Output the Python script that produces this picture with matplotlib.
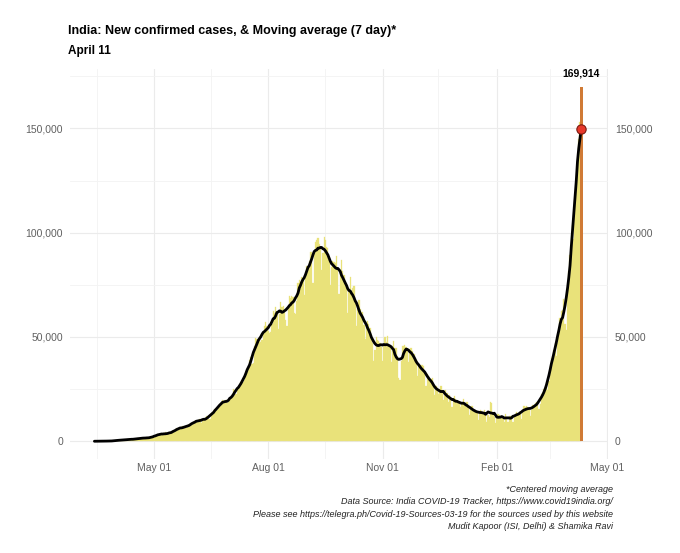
import numpy as np
import pandas as pd
import matplotlib
matplotlib.use('Agg')
import matplotlib.pyplot as plt
import matplotlib.dates as mdates
from matplotlib.ticker import FuncFormatter, MultipleLocator

plt.rcParams['font.family'] = ['Liberation Sans', 'DejaVu Sans']

# daily new confirmed cases, India, 2020-03-14 .. 2021-04-11
mar20 = [14, 8, 15, 11, 28, 23, 50, 84, 69, 99, 86, 88, 75, 153, 143, 109, 220, 303]
apr20 = [424, 486, 560, 579, 609, 484, 573, 565, 813, 871, 854, 758, 1243, 1031, 886,
         1061, 922, 1371, 1580, 1239, 1537, 1292, 1667, 1408, 1835, 1607, 1568, 1902, 1705, 1801]
may20 = [2396, 2564, 2952, 3656, 2971, 3602, 3344, 3339, 3175, 4311, 3592, 3562, 3726, 3991,
         3808, 4794, 5050, 4628, 6154, 5720, 6023, 6536, 6667, 7111, 6414, 6387, 6566, 7467,
         7964, 8380, 8171]
jun20 = [7723, 8821, 9633, 9851, 9847, 10408, 10882, 8536, 9985, 9996, 10956, 11929, 11502,
         10667, 10882, 12881, 13586, 14516, 15413, 14821, 14933, 16922, 17296, 18552, 19906,
         19459, 18522, 19620, 18339, 18653]
jul20 = [19148, 20903, 22771, 24850, 22252, 22752, 24879, 26506, 27114, 28637, 28701, 28498,
         29429, 32695, 34956, 34884, 38902, 40425, 37148, 37724, 45720, 49310, 48916, 48661,
         49931, 47703, 48513, 52123, 55078, 57118, 55079]
aug20 = [52972, 52050, 52509, 56282, 62538, 61537, 64399, 62064, 53601, 60963, 66999, 64553,
         65002, 63490, 57981, 55079, 64531, 69652, 68898, 69878, 69239, 61408, 60975, 67151,
         75760, 77266, 76472, 78761, 78512, 69921, 78357]
sep20 = [83883, 83341, 86432, 90632, 90802, 75809, 89706, 95735, 96551, 97570, 94372, 92071,
         81911, 90123, 97894, 96424, 93337, 92605, 86961, 75083, 83347, 86508, 86052, 85362,
         88600, 82170, 70589, 80472, 86821, 81484]
oct20 = [79476, 75829, 74442, 61267, 72049, 78524, 70496, 73272, 74383, 66732, 55342, 63509,
         67708, 63371, 62212, 61871, 55722, 48790, 56044, 57839, 56366, 54370, 51129, 47148,
         38470, 43893, 49881, 48648, 48268, 46963, 45231]
nov20 = [38310, 46253, 50210, 47638, 50357, 45674, 45903, 38073, 44281, 47905, 44879, 44878,
         41100, 30548, 29164, 38617, 45576, 45882, 46232, 45209, 44059, 37975, 44376, 44489,
         43082, 41322, 41810, 38772, 31118, 36604]
dec20 = [35551, 36595, 36652, 36011, 32981, 26567, 32080, 31521, 29398, 30006, 30254, 27071,
         22065, 26382, 24010, 22890, 25153, 26624, 24337, 19556, 23950, 24712, 23067, 18732,
         22272, 20021, 16432, 20550, 21822, 20035, 19078]
jan21 = [18177, 18088, 16504, 18088, 20346, 18139, 18222, 18645, 16311, 12584, 15968, 16946,
         15590, 15158, 15144, 13788, 10064, 13823, 15223, 14545, 14256, 14849, 13203, 9102,
         12689, 11666, 18855, 18132, 13083, 11571, 8635]
feb21 = [11039, 12899, 12408, 11713, 12059, 11831, 9110, 12923, 11067, 9309, 12143, 12194,
         11649, 9121, 11610, 13193, 13993, 13073, 14264, 13742, 10584, 13742, 16738, 16577,
         16752, 16488, 15510, 12286]
mar21 = [14989, 17407, 16838, 18327, 18711, 18599, 15388, 17921, 22854, 23285, 24882, 25320,
         26291, 24492, 28903, 35871, 39726, 40953, 43846, 46951, 40715, 47262, 53476, 59118,
         62258, 62714, 68020, 56211, 53480, 72330, 81466]
apr21 = [89129, 93249, 103558, 96982, 115736, 126789, 131968, 144829, 152879, 169914]

cases = (mar20 + apr20 + may20 + jun20 + jul20 + aug20 + sep20 + oct20 + nov20 + dec20
         + jan21 + feb21 + mar21 + apr21)
dates = pd.date_range('2020-03-14', periods=len(cases), freq='D')

df = pd.DataFrame({'date': dates, 'cases': cases})
# centered 7 day moving average (partial window at the ends)
df['ma7'] = df['cases'].rolling(7, center=True, min_periods=1).mean()

last = df.iloc[-1]

fig = plt.figure(figsize=(6.8, 5.53), dpi=100)
ax = fig.add_axes([0.103, 0.17, 0.791, 0.705])

ax.bar(df['date'][:-1], df['cases'][:-1], width=1.0, color='#E9E27A',
       edgecolor='#E9E27A', linewidth=0.2, zorder=2)
ax.bar(last['date'], last['cases'], width=2.4, color='#D07A35', linewidth=0, zorder=3)
ax.plot(df['date'], df['ma7'], color='black', lw=2.0, zorder=4, solid_capstyle='round')
ax.scatter([last['date']], [last['ma7']], s=45, color='#E8392B', edgecolor='#7A1A10',
           linewidth=0.8, zorder=5)
ax.annotate(f"{int(last['cases']):,}", (last['date'], last['cases']), xytext=(0, 6),
            textcoords='offset points', ha='center', va='bottom', fontsize=7.5,
            fontweight='bold')

span = df['date'].iloc[-1] - df['date'].iloc[0]
ax.set_xlim(df['date'].iloc[0] - span * 0.05, pd.Timestamp('2021-05-01 12:00'))
ax.set_ylim(-last['cases'] * 0.05, last['cases'] * 1.05)

ax.xaxis.set_major_locator(mdates.MonthLocator(bymonth=[2, 5, 8, 11]))
ax.xaxis.set_minor_locator(mdates.MonthLocator(bymonth=[3, 6, 9, 12], bymonthday=16))
ax.xaxis.set_major_formatter(mdates.DateFormatter('%b %d'))
ax.yaxis.set_major_locator(MultipleLocator(50000))
ax.yaxis.set_minor_locator(MultipleLocator(25000))
ax.yaxis.set_major_formatter(FuncFormatter(lambda v, p: f'{int(v):,}'))

ax.grid(which='major', color='#EBEBEB', lw=0.8, zorder=0)
ax.grid(which='minor', color='#F3F3F3', lw=0.6, zorder=0)
ax.set_axisbelow(True)
for s in ax.spines.values():
    s.set_visible(False)
ax.tick_params(which='both', length=0, labelsize=7.5, labelcolor='#606060',
               labelright=True, pad=5)
ax.tick_params(axis='x', pad=3)

fig.text(0.1, 0.938, 'India: New confirmed cases, & Moving average (7 day)*',
         fontsize=9, fontweight='bold', ha='left', va='baseline')
fig.text(0.1, 0.902, 'April 11', fontsize=8.5, fontweight='bold', ha='left', va='baseline')

caption = ('*Centered moving average\n'
           'Data Source: India COVID-19 Tracker, https://www.covid19india.org/\n'
           'Please see https://telegra.ph/Covid-19-Sources-03-19 for the sources used by this website\n'
           'Mudit Kapoor (ISI, Delhi) & Shamika Ravi')
fig.text(0.901, 0.123, caption, fontsize=6.5, style='italic', ha='right', va='top',
         linespacing=1.5, color='#222222')

fig.savefig('out.png', dpi=100)
